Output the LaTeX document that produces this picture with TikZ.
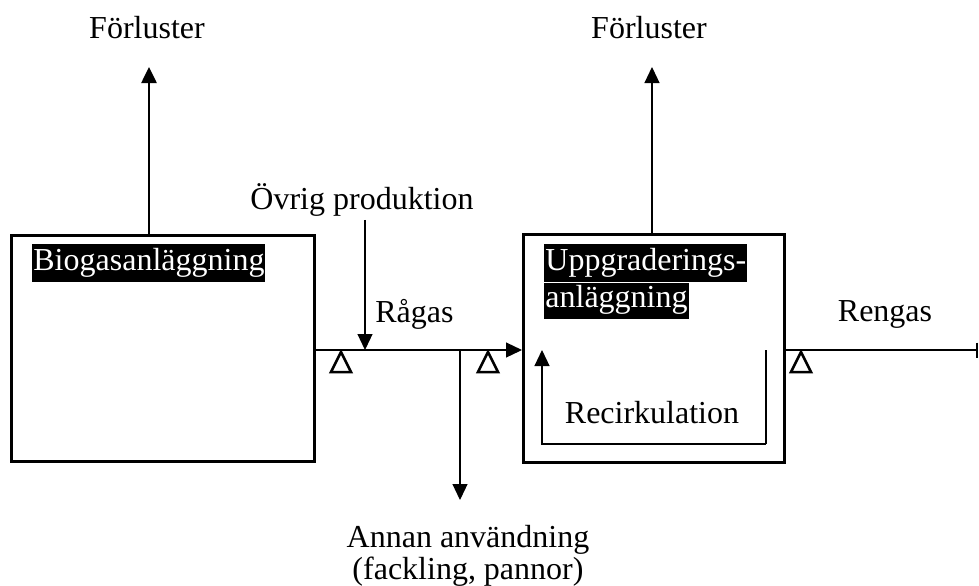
\documentclass[tikz,border=0pt]{standalone}
\usepackage{fontspec}
\setmainfont{Liberation Serif}
\usepackage{tikz}
\usetikzlibrary{arrows.meta}

\tikzset{
  tri/.style={-{Triangle[length=8pt,width=7.5pt]}},
  heavy/.style={line width=1.3pt},
  light/.style={line width=0.6pt},
  plant/.style={draw, line width=1.3pt, anchor=north west, inner sep=0pt},
  tag/.style={fill=black, text=white, anchor=north west, inner xsep=0.5pt, inner ysep=0pt, text height=13pt, text depth=6pt},
  lbl/.style={inner sep=0pt},
  delta/.style={line width=1.25pt, line join=miter}
}

\begin{document}
\begin{tikzpicture}[x=0.5pt, y=-0.5pt, font=\fontsize{16}{16}\selectfont]
\useasboundingbox (0,0) rectangle (979,585);

\node[plant, minimum width=151.5pt, minimum height=113pt] (biogas) at (10,234) {};
\node[plant, minimum width=130.5pt, minimum height=114pt] (upgrade) at (522,233) {};
\node[tag] (biotag) at (32,244) {Biogasanläggning};
\node[tag] (uptag1) at (544,244) {Uppgraderings-};
\node[tag, text height=12pt] (uptag2) at (uptag1.south west) {anläggning};

\coordinate (flow) at (0,350);
\coordinate (loss1tip) at (149,67);
\coordinate (loss2tip) at (652,67);
\coordinate (join) at (365,350);
\coordinate (split) at (460,350);
\coordinate (recright) at (766,350);
\coordinate (reccorner) at (766,444);
\coordinate (recleft) at (542,444);
\coordinate (rectip) at (542,350);
\coordinate (outend) at (978,350);

\node[lbl] (loss1) at (147,28) {Förluster};
\node[lbl] (loss2) at (649,28) {Förluster};
\node[lbl] (other) at (362,200) {Övrig produktion};
\node[lbl, anchor=west] (raw) at (375,314) {Rågas};
\node[lbl] (clean) at (885,314) {Rengas};
\node[lbl] (recirc) at (652,413) {Recirkulation};
\node[lbl, align=center] (use) at (468,556) {Annan användning\\(fackling, pannor)};

\foreach \x in {341,488,801}
  \draw[delta] (\x-10,372) -- (\x,352) -- (\x+10,372) -- cycle;

\draw[heavy, tri] (biogas.north -| loss1tip) -- (loss1tip);
\draw[light, tri] (upgrade.north -| loss2tip) -- (loss2tip);
\draw[light, tri] (biogas.east |- flow) -- (upgrade.west |- flow);
\draw[light, tri] (join |- other.south) ++(0,3) -- (join);
\draw[light, tri] (split) -- ++(0,150);
\draw[heavy] (recright) -- (reccorner);
\draw[light, tri] (reccorner) -- (recleft) -- (rectip);
\draw[light, -{Bar[width=7.5pt, line width=1.2pt]}] (upgrade.east |- flow) -- (outend);

\end{tikzpicture}
\end{document}
